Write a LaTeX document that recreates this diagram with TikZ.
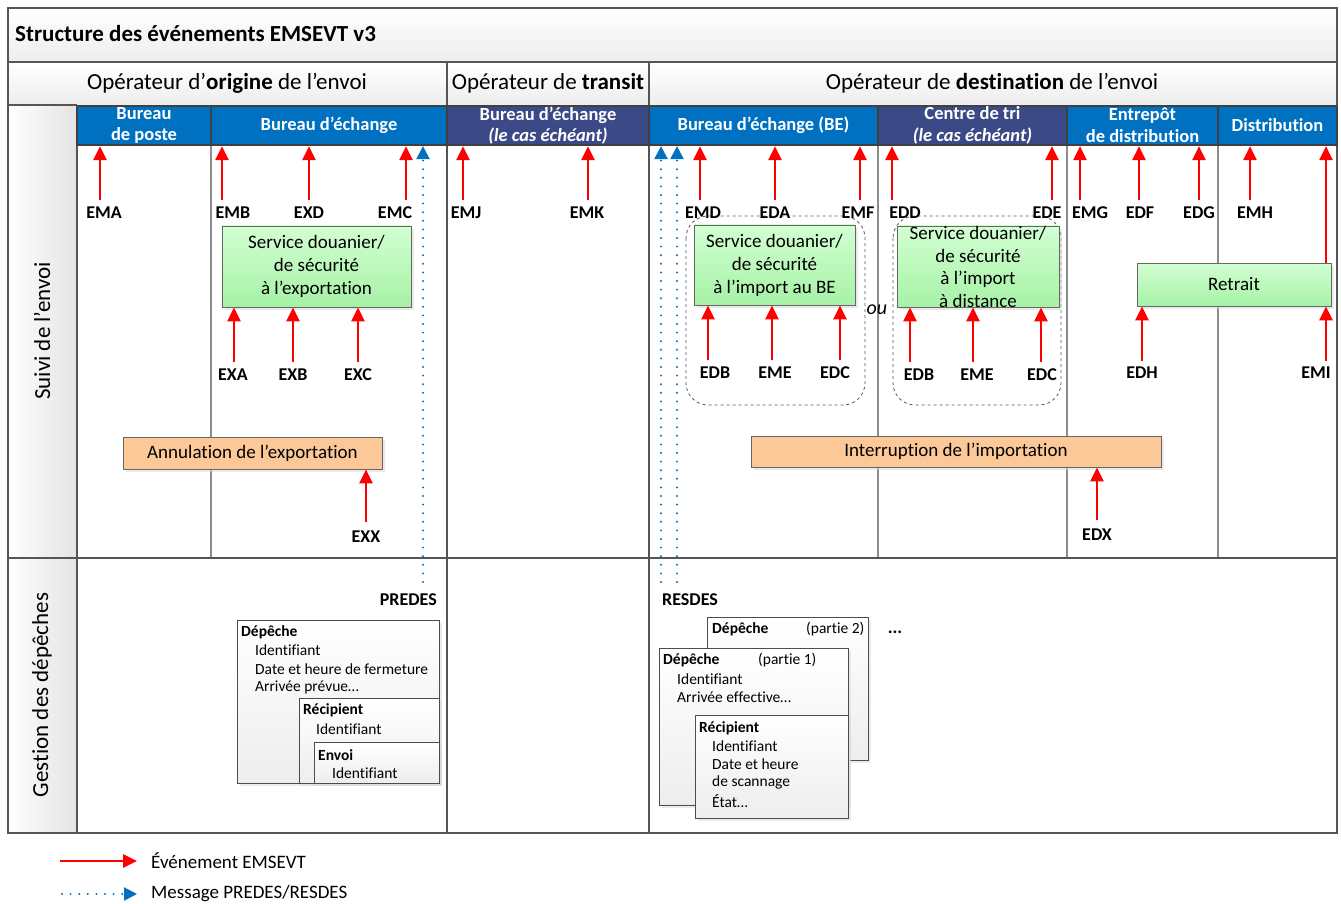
\documentclass[tikz,border=0pt]{standalone}
\usepackage{fontspec}
\setmainfont{Carlito}[Ligatures=NoCommon]
\usetikzlibrary{arrows.meta,shadows}

\definecolor{hblue}{HTML}{0070C0}
\definecolor{hnavy}{HTML}{3B4A86}
\definecolor{framec}{HTML}{555555}
\definecolor{evred}{HTML}{FF0000}
\definecolor{gtop}{HTML}{D2FFD2}
\definecolor{gbot}{HTML}{A6F2A6}
\definecolor{orng}{HTML}{FCC898}

\newcommand\myfs[1]{\fontsize{#1}{#1}\selectfont}
% event arrow: name, arrow x, tail y, target anchor, label x, label y, label text
\newcommand\evtup[7]{%
  \coordinate (t#1) at (#2,#3);
  \draw[evt] (t#1) -- (t#1 |- #4);
  \node[evlbl] (l#1) at (#5,#6) {#7};}

\tikzset{
  bar/.style={draw=black!75, line width=2.2pt, minimum height=39pt, inner sep=0pt,
    text=white, font=\fontsize{18.5}{21.5}\selectfont\bfseries, align=center},
  evt/.style={draw=evred, line width=2.6pt, -{Triangle[length=14pt,width=13pt,fill=evred]}},
  msg/.style={draw=hblue, line width=2.2pt, line cap=round, dash pattern=on 0pt off 8.6pt,
    -{Triangle[length=13pt,width=13pt,fill=hblue]}},
  evlbl/.style={font=\myfs{18}\bfseries, inner sep=0pt},
  boxshadow/.style={drop shadow={shadow xshift=3pt, shadow yshift=-3pt, fill=black!16}},
  gbox/.style={draw=black!60, line width=0.9pt, top color=gtop, bottom color=gbot, boxshadow,
    inner sep=0pt, font=\fontsize{19}{23}\selectfont, align=center},
  obox/.style={draw=black!60, line width=0.9pt, fill=orng, boxshadow, inner sep=0pt, font=\myfs{19}},
  dbox/.style={draw=black!70, line width=0.8pt, top color=white, bottom color=black!7,
    drop shadow={shadow xshift=2.5pt, shadow yshift=-2.5pt, fill=black!15}, inner sep=0pt, anchor=north west},
  dtxt/.style={anchor=west, font=\myfs{15.5}, inner sep=0pt},
  dhead/.style={anchor=west, font=\myfs{15.5}\bfseries, inner sep=0pt},
  grp/.style={draw=black!65, dashed, rounded corners=22pt, line width=0.8pt},
  frm/.style={draw=framec, line width=1.8pt},
  sep/.style={draw=black!45, line width=1.2pt}
}

\begin{document}
\begin{tikzpicture}[x=1pt, y=-1pt]
\useasboundingbox (0,0) rectangle (1341,904);

% backgrounds
\fill[top color=white, bottom color=black!7] (8,8) rectangle (1337,62);
\fill[top color=white, bottom color=black!7] (8,62) rectangle (1337,105);
\fill[left color=white, right color=black!11] (8,105) rectangle (77,833);
\fill[white] (77,105) rectangle (1337,833);

% title and operators
\node[anchor=west, font=\myfs{23}\bfseries, inner sep=0pt] (title) at (15,34) {Structure des événements EMSEVT v3};
\node[font=\myfs{23}, inner sep=0pt] (opOrig) at (227,83) {Opérateur d’\textbf{origine} de l’envoi};
\node[font=\myfs{23}, inner sep=0pt] (opTrans) at (548,83) {Opérateur de \textbf{transit}};
\node[font=\myfs{23}, inner sep=0pt] (opDest) at (992,83) {Opérateur de \textbf{destination} de l’envoi};

% lane titles
\node[rotate=90, font=\myfs{23}, inner sep=0pt] (lnSuivi) at (42,331) {Suivi de l’envoi};
\node[rotate=90, font=\myfs{23}, inner sep=0pt] (lnGest) at (42,695) {Gestion des dépêches};

% inner separators of the tracking lane
\draw[sep] (211,145) -- (211,558);
\draw[sep] (878,145) -- (878,558);
\draw[sep] (1067,145) -- (1067,558);
\draw[sep] (1218,145) -- (1218,558);

% frame
\draw[frm] (8,62) -- (1337,62);
\draw[frm] (8,558) -- (1337,558);
\draw[frm] (77,105) -- (77,833);
\draw[frm] (447,62) -- (447,833);
\draw[frm] (649,62) -- (649,833);
\draw[frm] (8,105) -- (77,105);
\draw[frm] (8,8) rectangle (1337,833);

% office bars
\node[bar, fill=hblue, minimum width=134pt] (bPoste) at (144,125.5) {Bureau\\de poste};
\node[bar, fill=hblue, minimum width=236pt] (bEch) at (329,125.5) {Bureau d’échange};
\node[bar, fill=hnavy, minimum width=202pt] (bTrans) at (548,125.5) {Bureau d’échange\\\textit{(le cas échéant)}};
\node[bar, fill=hblue, minimum width=229pt] (bBE) at (763.5,125.5) {Bureau d’échange (BE)};
\node[bar, fill=hnavy, minimum width=189pt] (bTri) at (972.5,125.5) {Centre de tri\\\textit{(le cas échéant)}};
\node[bar, fill=hblue, minimum width=151pt] (bEnt) at (1142.5,125.5) {Entrepôt\\de distribution};
\node[bar, fill=hblue, minimum width=119pt] (bDist) at (1277.5,125.5) {Distribution};

% grouped alternatives
\draw[grp] (686,216) rectangle (865,405);
\draw[grp] (893,216) rectangle (1061,405);
\node[font=\myfs{20}\itshape, inner sep=0pt] (ou) at (877,310) {ou};

% process boxes
\node[gbox, minimum width=189pt, minimum height=81pt] (exp) at (316.5,266.5)
  {Service douanier/\\de sécurité\\à l’exportation};
\node[gbox, minimum width=161pt, minimum height=80pt] (impBE) at (774.5,265)
  {Service douanier/\\de sécurité\\à l’import au BE};
\node[gbox, minimum width=162pt, minimum height=81pt] (impDist) at (978,266.5) {};
\node[font=\fontsize{19}{22.7}\selectfont, align=center, inner sep=0pt] (impDistTxt) at (978,267)
  {Service douanier/\\de sécurité\\à l’import\\à distance};
\node[gbox, minimum width=194pt, minimum height=43pt] (retrait) at (1234,284.5) {Retrait};
\node[obox, minimum width=259pt, minimum height=32pt] (annul) at (252.5,453) {Annulation de l’exportation};
\node[obox, minimum width=410pt, minimum height=31pt] (interr) at (956,451.5) {Interruption de l’importation};

% events towards the office bars
\evtup{EMA}{100}{200}{bPoste.south}{104}{213}{EMA}
\evtup{EMB}{222}{200}{bEch.south}{233}{213}{EMB}
\evtup{EXD}{309}{200}{bEch.south}{309}{213}{EXD}
\evtup{EMC}{406}{200}{bEch.south}{395}{213}{EMC}
\evtup{EMJ}{463}{200}{bTrans.south}{466}{213}{EMJ}
\evtup{EMK}{588}{200}{bTrans.south}{587}{213}{EMK}
\evtup{EMD}{700}{200}{bBE.south}{703}{213}{EMD}
\evtup{EDA}{775}{200}{bBE.south}{775}{213}{EDA}
\evtup{EMF}{860}{200}{bBE.south}{858}{213}{EMF}
\evtup{EDD}{892}{200}{bTri.south}{905}{213}{EDD}
\evtup{EDE}{1052}{200}{bTri.south}{1047}{213}{EDE}
\evtup{EMG}{1080}{200}{bEnt.south}{1090}{213}{EMG}
\evtup{EDF}{1139}{200}{bEnt.south}{1140}{213}{EDF}
\evtup{EDG}{1199}{200}{bEnt.south}{1199}{213}{EDG}
\evtup{EMH}{1250}{200}{bDist.south}{1255}{213}{EMH}
\coordinate (tRet) at (1326,263);
\draw[evt] (tRet) -- (tRet |- bDist.south);

% events towards the process boxes
\evtup{EXA}{234}{362}{exp.south}{233}{375}{EXA}
\evtup{EXB}{293}{362}{exp.south}{293}{375}{EXB}
\evtup{EXC}{358}{362}{exp.south}{358}{375}{EXC}
\evtup{EDBa}{708}{360}{impBE.south}{715}{373}{EDB}
\evtup{EMEa}{772}{360}{impBE.south}{775}{373}{EME}
\evtup{EDCa}{840}{360}{impBE.south}{835}{373}{EDC}
\evtup{EDBb}{910}{362}{impDist.south}{919}{375}{EDB}
\evtup{EMEb}{973}{362}{impDist.south}{977}{375}{EME}
\evtup{EDCb}{1041}{362}{impDist.south}{1042}{375}{EDC}
\evtup{EDH}{1142}{361}{retrait.south}{1142}{373}{EDH}
\evtup{EMI}{1326}{361}{retrait.south}{1316}{373}{EMI}
\evtup{EXX}{366}{522}{annul.south}{366}{537}{EXX}
\evtup{EDX}{1097}{520}{interr.south}{1097}{535}{EDX}

% PREDES / RESDES messages
\coordinate (mP) at (423,582);
\draw[msg] (mP) -- (mP |- bEch.south);
\coordinate (mRa) at (661,582);
\draw[msg] (mRa) -- (mRa |- bBE.south);
\coordinate (mRb) at (677,582);
\draw[msg] (mRb) -- (mRb |- bBE.south);
\node[evlbl, anchor=east] (predes) at (437,600) {PREDES};
\node[evlbl, anchor=west] (resdes) at (662,600) {RESDES};

% PREDES content
\node[dbox, minimum width=202pt, minimum height=163pt] (pDep) at (237,620) {};
\node[dhead] (pDepH) at (241,632) {Dépêche};
\node[dtxt] (pDep1) at (255,650) {Identifiant};
\node[dtxt] (pDep2) at (255,669) {Date et heure de fermeture};
\node[dtxt] (pDep3) at (255,687) {Arrivée prévue…};
\node[dbox, minimum width=140pt, minimum height=85pt] (pRec) at (299,698) {};
\node[dhead] (pRecH) at (303,710) {Récipient};
\node[dtxt] (pRec1) at (316,729) {Identifiant};
\node[dbox, minimum width=125pt, minimum height=41pt] (pEnv) at (314,742) {};
\node[dhead] (pEnvH) at (318,755) {Envoi};
\node[dtxt] (pEnv1) at (332,773) {Identifiant};

% RESDES content
\node[dbox, minimum width=161pt, minimum height=143pt] (rDep2) at (707,617) {};
\node[dhead] (rDep2H) at (712,629) {Dépêche};
\node[dtxt] (rDep2P) at (806,629) {(partie 2)};
\node[font=\myfs{18}\bfseries, inner sep=0pt] (rMore) at (895,632) {...};
\node[dbox, minimum width=189pt, minimum height=157pt] (rDep1) at (659,648) {};
\node[dhead] (rDep1H) at (663,660) {Dépêche};
\node[dtxt] (rDep1P) at (758,660) {(partie 1)};
\node[dtxt] (rDep11) at (677,679) {Identifiant};
\node[dtxt] (rDep12) at (677,697) {Arrivée effective…};
\node[dbox, minimum width=153pt, minimum height=103pt] (rRec) at (695,715) {};
\node[dhead] (rRecH) at (699,728) {Récipient};
\node[dtxt] (rRec1) at (712,746) {Identifiant};
\node[dtxt] (rRec2) at (712,764) {Date et heure};
\node[dtxt] (rRec3) at (712,782) {de scannage};
\node[dtxt] (rRec4) at (712,801) {État…};

% legend
\coordinate (lgEa) at (60,861);
\coordinate (lgEb) at (137,861);
\draw[evt] (lgEa) -- (lgEb);
\node[anchor=west, font=\myfs{19}, inner sep=0pt] (lgEvt) at (151,861) {Événement EMSEVT};
\coordinate (lgMa) at (62,894);
\coordinate (lgMb) at (137,894);
\draw[msg] (lgMa) -- (lgMb);
\node[anchor=west, font=\myfs{19}, inner sep=0pt] (lgMsg) at (151,894) {Message PREDES/RESDES};
\end{tikzpicture}
\end{document}
